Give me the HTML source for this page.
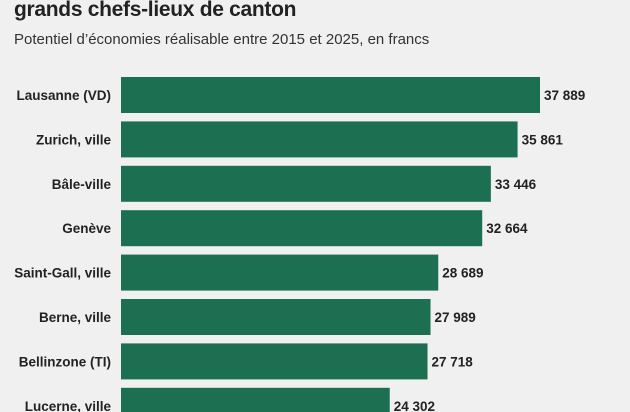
<!DOCTYPE html>
<html><head><meta charset="utf-8"><style>
body{margin:0;width:630px;height:412px;overflow:hidden;background:#f0f0f0;font-family:"Liberation Sans",sans-serif;}
.t{position:absolute;left:14px;top:-2px;font-size:21px;font-weight:bold;color:#222;letter-spacing:-0.3px}
.s{position:absolute;left:14px;top:31px;font-size:15px;color:#333}
</style></head><body>
<div class="t">grands chefs-lieux de canton</div>
<div class="s">Potentiel d’économies réalisable entre 2015 et 2025, en francs</div>
<svg id="c" width="630" height="412" style="position:absolute;left:0;top:0"></svg>
<script>
const categories=["Lausanne (VD)","Zurich, ville","Bâle-ville","Genève","Saint-Gall, ville","Berne, ville","Bellinzone (TI)","Lucerne, ville"];
const values=[37889,35861,33446,32664,28689,27989,27718,24302];
const labels=["37 889","35 861","33 446","32 664","28 689","27 989","27 718","24 302"];
const svg=document.getElementById('c');
const NS="http://www.w3.org/2000/svg";
const x0=121, k=419/37889;
const x=v=>x0+v*k;
const y=i=>77+i*44.4;
const bh=36;
categories.forEach((c,i)=>{
  const r=document.createElementNS(NS,'rect');
  
  
  r.setAttribute('x',x0);r.setAttribute('y',y(i));
  r.setAttribute('width',x(values[i])-x0);r.setAttribute('height',bh);
  r.setAttribute('fill','#1c7051');
  svg.appendChild(r);
  const l=document.createElementNS(NS,'text');
  
  
  l.setAttribute('x',111);l.setAttribute('y',y(i)+bh/2+5);
  l.setAttribute('text-anchor','end');l.setAttribute('font-size','13.5');l.setAttribute('font-weight','bold');l.setAttribute('fill','#222');
  l.textContent=c;svg.appendChild(l);
  const v=document.createElementNS(NS,'text');
  
  
  v.setAttribute('x',x(values[i])+4);v.setAttribute('y',y(i)+bh/2+5);
  v.setAttribute('font-size','13.5');v.setAttribute('font-weight','bold');v.setAttribute('fill','#222');
  v.textContent=labels[i];svg.appendChild(v);
});
</script>
</body></html>
